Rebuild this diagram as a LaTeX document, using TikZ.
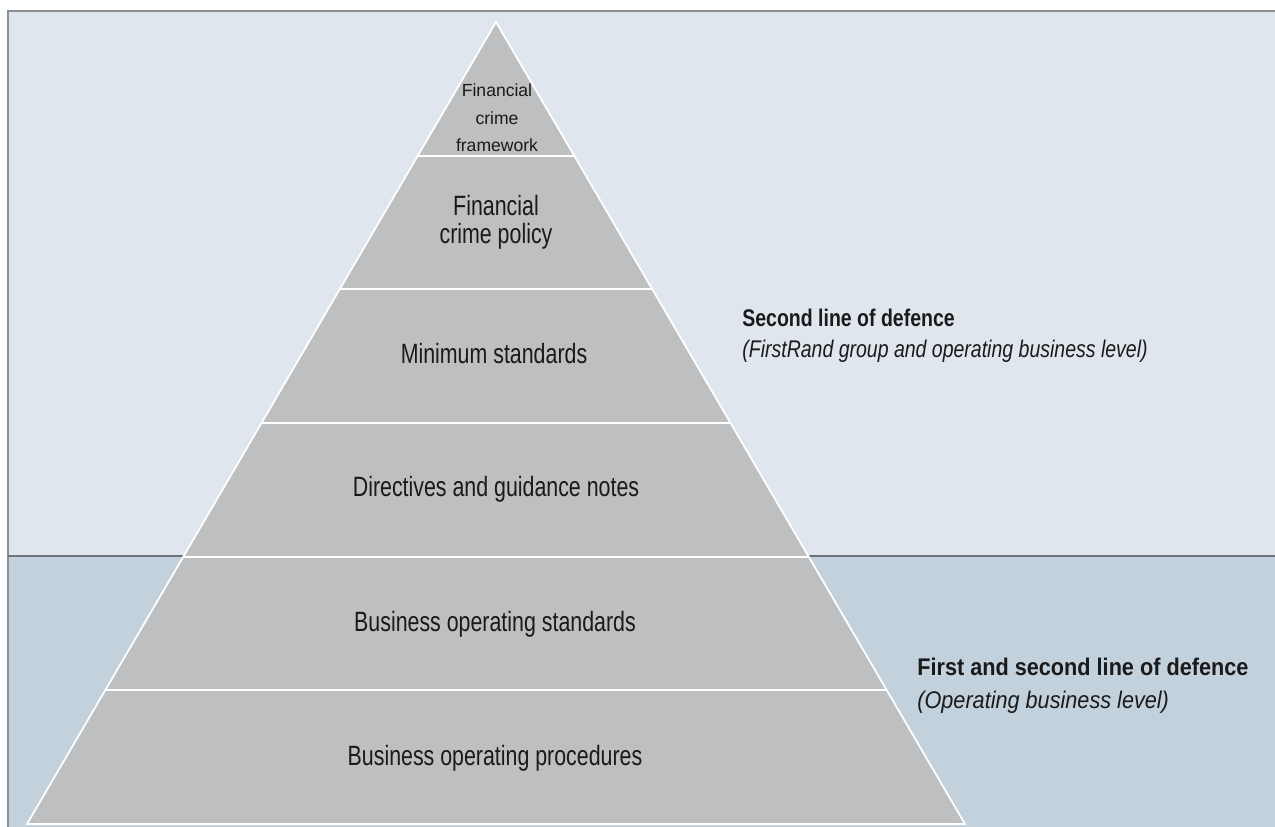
\documentclass[tikz,border=0pt]{standalone}
\usepackage{fontspec}
\setmainfont{Liberation Sans}
\newfontfamily\pyrfont[FakeStretch=0.765]{Liberation Sans}
\newfontfamily\sidefont[FakeStretch=0.81]{Liberation Sans}
\newfontfamily\lowsidefont[FakeStretch=0.90]{Liberation Sans}
\definecolor{topbg}{HTML}{DFE6ED}
\definecolor{lowbg}{HTML}{C3D1DC}
\definecolor{pyrgray}{HTML}{BDBFC0}
\definecolor{rulegray}{HTML}{6E7378}
\definecolor{inktext}{HTML}{1A1A1A}
\begin{document}
\begin{tikzpicture}[
        x=0.02cm, y=-0.02cm,
        every node/.style={text=inktext, inner sep=0pt},
        layertext/.style={anchor=base, font=\pyrfont\fontsize{15.9}{15.9}\selectfont},
        twoline/.style={align=center, font=\pyrfont\fontsize{15.9}{15.9}\selectfont},
        toptext/.style={align=center, font=\fontsize{10}{15.6}\selectfont},
        sidetext/.style={anchor=west, align=left, font=\sidefont\fontsize{13.7}{17.6}\selectfont},
        layerline/.style={white, line width=1.2pt}
    ]
        \useasboundingbox (0,0) rectangle (1275,827);

        % Background bands
        \fill[topbg] (8,11) rectangle (1275,556);
        \fill[lowbg] (8,556) rectangle (1275,827);
        \draw[rulegray!80, line width=1.1pt] (8,827) -- (8,11) -- (1275,11);
        \draw[rulegray, line width=1.5pt] (8,556) -- (1275,556);

        % Pyramid
        \filldraw[fill=pyrgray, draw=white, line width=1pt] (496,22) -- (965,824) -- (27,824) -- cycle;
        \foreach \k in {1,...,5}
            \draw[layerline] ({496-78.17*\k},{22+133.67*\k}) -- ({496+78.17*\k},{22+133.67*\k});

        % Layer labels
        \node[toptext] (frame) at (497,118) {Financial\\crime\\framework};
        \node[twoline] (policy) at (496,222) {Financial\\crime policy};
        \node[layertext] (minstd) at (494,364) {Minimum standards};
        \node[layertext] (direct) at (496,497) {Directives and guidance notes};
        \node[layertext] (busstd) at (495,631) {Business operating standards};
        \node[layertext] (busproc) at (495,765) {Business operating procedures};

        % Lines of defence
        \node[sidetext] (second) at (742,336) {\textbf{Second line of defence}\\\textit{(FirstRand group and operating business level)}};
        \node[sidetext, font=\lowsidefont\fontsize{13.7}{18.7}\selectfont] (firstsecond) at (917,686) {\textbf{First and second line of defence}\\\textit{(Operating business level)}};

    \end{tikzpicture}
\end{document}
